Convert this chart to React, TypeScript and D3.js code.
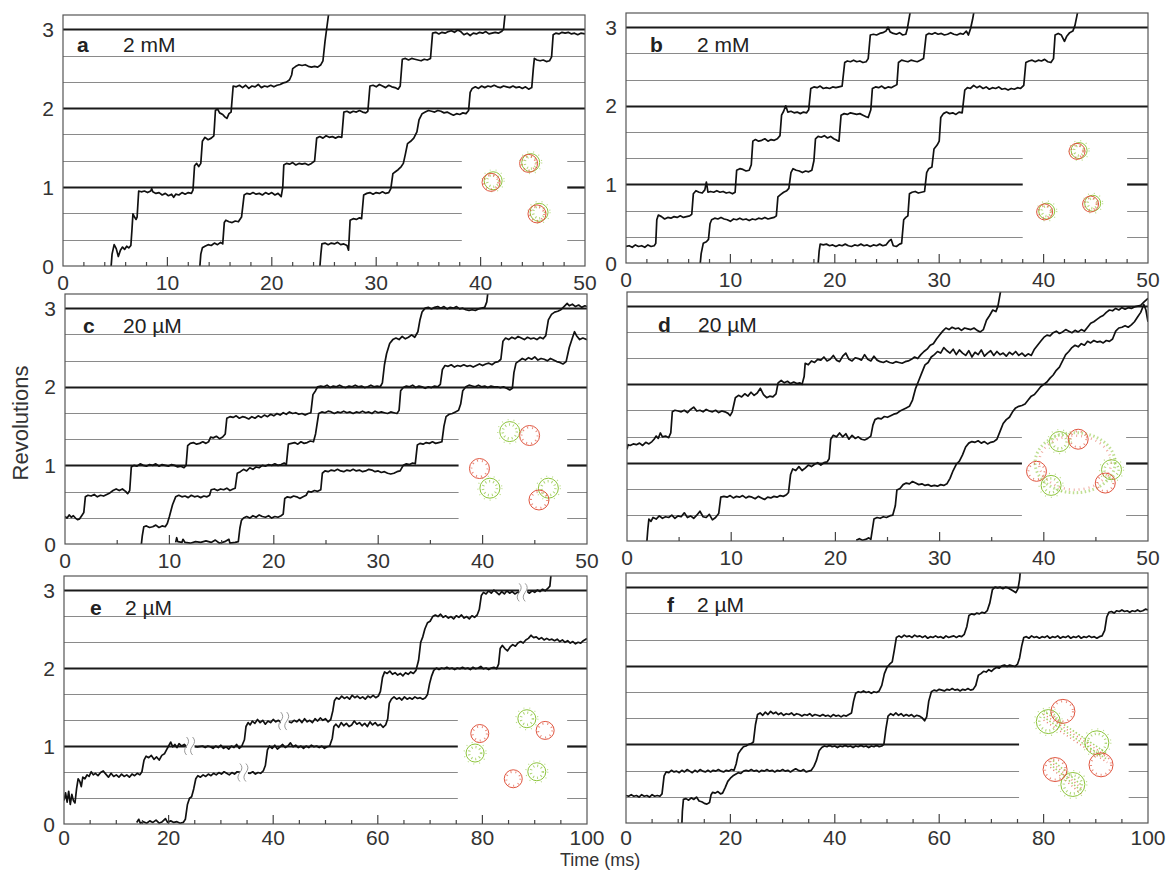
import React from 'react';
import * as d3 from 'd3';

type P = [number, number];

// ---------- trace data (time ms, revolutions) ----------
const A1: P[] = [[4.6,-0.02],[4.7,0.15],[4.9,0.27],[5.1,0.22],[5.3,0.12],[5.5,0.2],[5.7,0.24],[5.9,0.21],[6.1,0.25],[6.3,0.23],[6.5,0.26],[6.6,0.45],[6.7,0.66],[6.85,0.62],[7.0,0.59],[7.1,0.62],[7.25,0.95],[7.5,0.94],[7.8,0.95],[8.1,0.93],[8.4,0.95],[8.5,0.98],[8.6,0.94],[8.9,0.92],[9.2,0.93],[9.5,0.9],[9.8,0.92],[10.1,0.89],[10.4,0.91],[10.6,0.87],[10.8,0.91],[11.1,0.9],[11.4,0.93],[11.7,0.91],[12.0,0.93],[12.3,0.92],[12.45,0.96],[12.6,1.27],[12.8,1.3],[13.0,1.26],[13.2,1.3],[13.35,1.58],[13.6,1.63],[13.9,1.6],[14.2,1.62],[14.45,1.65],[14.6,1.97],[14.8,1.99],[15.0,1.94],[15.3,1.92],[15.5,1.89],[15.7,1.87],[15.9,1.93],[16.1,1.95],[16.3,2.28],[16.6,2.27],[16.9,2.29],[17.2,2.26],[17.5,2.29],[17.8,2.25],[18.1,2.28],[18.4,2.27],[18.7,2.3],[19.0,2.26],[19.3,2.28],[19.6,2.27],[19.9,2.29],[20.2,2.27],[20.5,2.29],[20.8,2.3],[21.1,2.32],[21.4,2.33],[21.7,2.36],[21.9,2.42],[22.0,2.5],[22.3,2.53],[22.6,2.55],[22.9,2.54],[23.2,2.55],[23.5,2.53],[23.8,2.52],[24.1,2.53],[24.4,2.52],[24.7,2.55],[24.9,2.6],[25.1,2.85],[25.3,3.05],[25.5,3.25]];
const A2: P[] = [[13.1,-0.02],[13.2,0.15],[13.35,0.23],[13.6,0.25],[13.9,0.27],[14.2,0.26],[14.5,0.29],[14.8,0.27],[15.1,0.3],[15.3,0.28],[15.45,0.55],[15.6,0.58],[15.9,0.56],[16.2,0.55],[16.5,0.57],[16.8,0.56],[17.1,0.62],[17.35,0.9],[17.6,0.92],[17.9,0.91],[18.2,0.93],[18.5,0.91],[18.8,0.92],[19.1,0.9],[19.4,0.93],[19.7,0.91],[20.0,0.93],[20.3,0.9],[20.6,0.92],[20.9,0.88],[21.05,1.0],[21.15,1.28],[21.4,1.3],[21.7,1.29],[22.0,1.31],[22.3,1.28],[22.6,1.3],[22.9,1.29],[23.2,1.3],[23.5,1.28],[23.8,1.3],[24.1,1.33],[24.3,1.62],[24.6,1.64],[24.9,1.62],[25.2,1.65],[25.5,1.63],[25.8,1.64],[26.1,1.62],[26.4,1.64],[26.7,1.63],[26.9,1.95],[27.2,1.96],[27.5,1.94],[27.8,1.96],[28.1,1.95],[28.4,1.97],[28.7,1.95],[29.0,1.94],[29.2,1.96],[29.4,2.28],[29.7,2.29],[30.0,2.27],[30.3,2.3],[30.6,2.28],[30.9,2.26],[31.2,2.29],[31.5,2.27],[31.8,2.26],[32.1,2.24],[32.3,2.28],[32.5,2.62],[32.8,2.63],[33.1,2.61],[33.4,2.63],[33.7,2.62],[34.0,2.61],[34.3,2.6],[34.6,2.62],[34.9,2.61],[35.2,2.63],[35.4,2.95],[35.7,2.96],[36.0,2.94],[36.3,2.96],[36.6,2.95],[36.9,2.97],[37.2,2.98],[37.5,2.96],[37.8,2.99],[38.1,2.97],[38.4,2.93],[38.7,2.95],[39.0,2.92],[39.3,2.95],[39.6,2.94],[39.9,2.96],[40.2,2.95],[40.5,2.97],[40.8,2.94],[41.1,2.95],[41.4,2.96],[41.7,2.95],[42.0,2.97],[42.2,3.0],[42.35,3.2],[42.45,3.25]];
const A3: P[] = [[24.6,-0.02],[24.7,0.15],[24.8,0.28],[25.1,0.29],[25.4,0.27],[25.7,0.29],[26.0,0.28],[26.3,0.3],[26.6,0.27],[26.9,0.28],[27.2,0.26],[27.35,0.2],[27.5,0.58],[27.8,0.6],[28.1,0.59],[28.4,0.61],[28.6,0.6],[28.8,0.9],[29.1,0.92],[29.4,0.93],[29.7,0.91],[30.0,0.93],[30.3,0.92],[30.6,0.94],[30.9,0.92],[31.2,0.93],[31.4,0.98],[31.6,1.17],[31.9,1.2],[32.1,1.22],[32.4,1.26],[32.6,1.3],[32.8,1.42],[33.0,1.55],[33.3,1.58],[33.6,1.62],[33.9,1.7],[34.1,1.85],[34.4,1.93],[34.7,1.95],[35.0,1.97],[35.3,1.96],[35.6,1.95],[35.9,1.97],[36.2,1.96],[36.5,1.94],[36.8,1.95],[37.1,1.93],[37.4,1.91],[37.7,1.93],[38.0,1.92],[38.3,1.94],[38.6,1.93],[38.85,1.97],[39.0,2.2],[39.2,2.25],[39.5,2.27],[39.8,2.25],[40.1,2.28],[40.4,2.26],[40.7,2.28],[41.0,2.27],[41.3,2.29],[41.6,2.27],[41.9,2.26],[42.2,2.28],[42.5,2.27],[42.8,2.26],[43.1,2.28],[43.4,2.26],[43.7,2.27],[44.0,2.25],[44.3,2.27],[44.6,2.24],[44.9,2.26],[45.05,2.5],[45.15,2.63],[45.4,2.61],[45.7,2.6],[46.0,2.61],[46.3,2.59],[46.6,2.6],[46.8,2.65],[46.95,2.93],[47.2,2.95],[47.5,2.94],[47.8,2.96],[48.1,2.95],[48.4,2.96],[48.7,2.94],[49.0,2.95],[49.3,2.93],[49.6,2.95],[50.0,2.94]];

const B1: P[] = [[0,0.21],[0.3,0.22],[0.6,0.2],[0.9,0.23],[1.2,0.21],[1.5,0.22],[1.8,0.2],[2.1,0.23],[2.4,0.21],[2.7,0.22],[2.85,0.25],[2.95,0.55],[3.1,0.61],[3.4,0.59],[3.7,0.56],[4.0,0.58],[4.3,0.57],[4.6,0.59],[4.9,0.58],[5.2,0.6],[5.5,0.58],[5.8,0.59],[6.1,0.6],[6.3,0.62],[6.45,0.88],[6.7,0.92],[7.0,0.9],[7.3,0.89],[7.55,0.93],[7.7,1.03],[7.85,0.9],[8.1,0.91],[8.4,0.9],[8.7,0.92],[9.0,0.9],[9.3,0.91],[9.6,0.89],[9.9,0.9],[10.2,0.88],[10.45,0.9],[10.6,1.18],[10.9,1.2],[11.2,1.19],[11.5,1.17],[11.8,1.18],[12.0,1.25],[12.15,1.55],[12.4,1.57],[12.7,1.55],[13.0,1.56],[13.3,1.58],[13.6,1.55],[13.9,1.57],[14.2,1.56],[14.5,1.58],[14.75,1.62],[14.9,1.88],[15.1,1.93],[15.3,2.0],[15.5,1.92],[15.8,1.93],[16.1,1.91],[16.4,1.92],[16.7,1.9],[17.0,1.92],[17.3,1.91],[17.5,1.95],[17.7,2.22],[18.0,2.24],[18.3,2.23],[18.6,2.25],[18.9,2.22],[19.2,2.23],[19.5,2.22],[19.8,2.24],[20.1,2.23],[20.4,2.24],[20.7,2.25],[20.95,2.55],[21.2,2.57],[21.5,2.56],[21.8,2.58],[22.1,2.56],[22.4,2.57],[22.7,2.55],[23.0,2.56],[23.2,2.6],[23.4,2.9],[23.7,2.91],[24.0,2.9],[24.3,2.92],[24.6,2.93],[24.9,2.95],[25.1,3.0],[25.3,2.94],[25.6,2.92],[25.9,2.91],[26.2,2.93],[26.5,2.9],[26.8,2.91],[26.95,2.98],[27.1,3.1],[27.3,3.25]];
const B2: P[] = [[7.1,-0.02],[7.2,0.12],[7.4,0.25],[7.7,0.27],[7.9,0.3],[8.05,0.5],[8.2,0.55],[8.5,0.57],[8.8,0.56],[9.1,0.58],[9.4,0.56],[9.7,0.55],[10.0,0.53],[10.3,0.56],[10.6,0.55],[10.9,0.57],[11.2,0.55],[11.5,0.56],[11.8,0.54],[12.1,0.56],[12.4,0.55],[12.7,0.57],[13.0,0.56],[13.3,0.58],[13.6,0.56],[13.9,0.57],[14.2,0.58],[14.4,0.6],[14.55,0.84],[14.8,0.87],[15.1,0.9],[15.4,0.92],[15.6,0.95],[15.8,1.15],[16.0,1.2],[16.3,1.18],[16.6,1.17],[16.9,1.15],[17.2,1.17],[17.5,1.16],[17.8,1.18],[18.0,1.3],[18.15,1.58],[18.4,1.61],[18.7,1.6],[19.0,1.62],[19.3,1.59],[19.6,1.61],[19.9,1.58],[20.2,1.56],[20.4,1.55],[20.6,1.88],[20.9,1.9],[21.2,1.89],[21.5,1.91],[21.8,1.9],[22.1,1.89],[22.4,1.9],[22.7,1.88],[23.0,1.86],[23.2,1.85],[23.45,1.95],[23.6,2.22],[23.9,2.24],[24.2,2.23],[24.5,2.25],[24.8,2.22],[25.1,2.24],[25.4,2.23],[25.7,2.25],[25.95,2.27],[26.1,2.55],[26.4,2.58],[26.7,2.57],[27.0,2.56],[27.3,2.58],[27.6,2.57],[27.9,2.56],[28.2,2.58],[28.5,2.6],[28.75,2.9],[29.0,2.92],[29.3,2.91],[29.6,2.93],[29.9,2.91],[30.2,2.92],[30.5,2.9],[30.8,2.91],[31.1,2.93],[31.4,2.91],[31.7,2.9],[32.0,2.92],[32.3,2.91],[32.6,2.95],[32.8,2.9],[33.0,2.98],[33.2,3.1],[33.4,3.25]];
const B3: P[] = [[18.4,-0.02],[18.5,0.15],[18.6,0.24],[18.9,0.23],[19.2,0.24],[19.5,0.22],[19.8,0.23],[20.1,0.21],[20.4,0.23],[20.7,0.22],[21.0,0.24],[21.3,0.22],[21.6,0.21],[21.9,0.23],[22.2,0.22],[22.5,0.24],[22.8,0.22],[23.1,0.23],[23.4,0.21],[23.7,0.23],[24.0,0.22],[24.3,0.24],[24.6,0.22],[24.9,0.23],[25.2,0.28],[25.4,0.3],[25.6,0.22],[25.9,0.21],[26.2,0.24],[26.4,0.25],[26.6,0.55],[26.8,0.58],[27.0,0.6],[27.15,0.88],[27.4,0.9],[27.7,0.91],[28.0,0.89],[28.3,0.9],[28.6,0.91],[28.8,1.15],[29.0,1.2],[29.3,1.22],[29.5,1.45],[29.8,1.5],[30.0,1.55],[30.15,1.85],[30.4,1.9],[30.7,1.92],[31.0,1.9],[31.3,1.91],[31.6,1.89],[31.9,1.92],[32.2,1.91],[32.45,2.2],[32.7,2.23],[33.0,2.22],[33.3,2.26],[33.6,2.23],[33.9,2.25],[34.2,2.22],[34.5,2.24],[34.8,2.21],[35.1,2.23],[35.4,2.22],[35.7,2.24],[36.0,2.21],[36.3,2.22],[36.6,2.2],[36.9,2.22],[37.2,2.21],[37.5,2.23],[37.8,2.22],[38.1,2.26],[38.3,2.55],[38.6,2.57],[38.9,2.58],[39.2,2.56],[39.5,2.58],[39.8,2.57],[40.1,2.59],[40.4,2.56],[40.7,2.55],[40.95,2.6],[41.1,2.9],[41.4,2.92],[41.7,2.9],[42.0,2.82],[42.2,2.88],[42.5,2.93],[42.8,2.95],[43.0,3.02],[43.2,3.15],[43.35,3.25]];

const C1: P[] = [[0,0.35],[0.2,0.33],[0.4,0.37],[0.6,0.34],[0.8,0.36],[1.0,0.33],[1.2,0.31],[1.4,0.32],[1.6,0.36],[1.8,0.4],[1.95,0.6],[2.2,0.62],[2.5,0.61],[2.8,0.63],[3.1,0.6],[3.4,0.62],[3.7,0.61],[4.0,0.63],[4.3,0.65],[4.6,0.68],[4.9,0.7],[5.2,0.68],[5.5,0.7],[5.8,0.67],[6.0,0.64],[6.2,0.68],[6.35,0.98],[6.6,1.0],[6.9,0.99],[7.2,1.02],[7.5,1.0],[7.8,0.99],[8.1,1.01],[8.4,1.0],[8.7,1.02],[9.0,0.99],[9.3,1.01],[9.6,1.0],[9.9,0.99],[10.2,1.01],[10.5,1.0],[10.8,0.98],[11.1,0.99],[11.4,0.97],[11.6,1.0],[11.75,1.25],[12.0,1.28],[12.3,1.29],[12.6,1.27],[12.9,1.28],[13.2,1.3],[13.5,1.28],[13.75,1.3],[13.95,1.36],[14.2,1.35],[14.5,1.37],[14.8,1.34],[15.1,1.36],[15.35,1.4],[15.5,1.6],[15.8,1.62],[16.1,1.61],[16.4,1.63],[16.7,1.6],[17.0,1.62],[17.3,1.61],[17.6,1.59],[17.9,1.62],[18.2,1.6],[18.5,1.63],[18.8,1.61],[19.1,1.64],[19.4,1.62],[19.7,1.65],[20.0,1.63],[20.3,1.66],[20.6,1.64],[20.9,1.67],[21.2,1.65],[21.5,1.68],[21.8,1.66],[22.1,1.67],[22.4,1.65],[22.7,1.66],[23.0,1.64],[23.3,1.66],[23.55,1.67],[23.75,1.9],[24.0,1.95],[24.2,2.0],[24.5,2.01],[24.8,2.0],[25.1,2.02],[25.4,1.99],[25.7,2.01],[26.0,2.0],[26.3,2.02],[26.6,2.0],[26.9,1.99],[27.2,2.01],[27.5,2.0],[27.8,2.02],[28.1,2.0],[28.4,2.01],[28.7,1.99],[29.0,2.0],[29.3,2.02],[29.6,2.0],[29.9,2.01],[30.2,2.0],[30.4,2.05],[30.6,2.28],[30.8,2.42],[31.1,2.55],[31.4,2.6],[31.7,2.62],[32.0,2.6],[32.3,2.64],[32.6,2.61],[32.9,2.63],[33.2,2.66],[33.5,2.63],[33.8,2.7],[34.0,2.85],[34.2,2.95],[34.5,3.0],[34.8,3.01],[35.1,2.99],[35.4,3.01],[35.7,3.02],[36.0,3.0],[36.3,3.02],[36.6,2.99],[36.9,3.01],[37.2,3.0],[37.5,3.02],[37.8,2.99],[38.1,3.0],[38.4,2.98],[38.7,2.97],[39.0,2.98],[39.3,2.97],[39.6,2.99],[39.9,3.0],[40.2,3.01],[40.4,3.08],[40.55,3.25]];
const C2: P[] = [[7.3,-0.02],[7.4,0.1],[7.55,0.22],[7.8,0.23],[8.1,0.21],[8.4,0.22],[8.7,0.24],[9.0,0.21],[9.3,0.23],[9.6,0.22],[9.8,0.26],[10.0,0.35],[10.3,0.5],[10.6,0.6],[10.9,0.62],[11.2,0.6],[11.5,0.61],[11.8,0.59],[12.1,0.62],[12.4,0.6],[12.7,0.61],[13.0,0.59],[13.3,0.61],[13.6,0.6],[13.85,0.62],[14.0,0.69],[14.3,0.7],[14.6,0.68],[14.9,0.7],[15.2,0.69],[15.5,0.71],[15.8,0.68],[16.1,0.7],[16.3,0.71],[16.5,0.9],[16.8,0.92],[17.1,0.95],[17.4,0.93],[17.7,0.97],[18.0,0.95],[18.3,0.98],[18.6,0.97],[18.9,1.0],[19.2,0.99],[19.5,1.01],[19.8,1.0],[20.1,1.02],[20.4,1.0],[20.7,1.01],[21.0,1.03],[21.2,1.01],[21.4,1.27],[21.7,1.28],[22.0,1.29],[22.3,1.27],[22.6,1.3],[22.9,1.28],[23.2,1.29],[23.5,1.31],[23.8,1.3],[24.0,1.4],[24.3,1.66],[24.6,1.68],[24.9,1.67],[25.2,1.69],[25.5,1.68],[25.8,1.66],[26.1,1.68],[26.4,1.67],[26.7,1.69],[27.0,1.67],[27.3,1.68],[27.6,1.66],[27.9,1.68],[28.2,1.67],[28.5,1.69],[28.8,1.67],[29.1,1.68],[29.4,1.66],[29.7,1.69],[30.0,1.67],[30.3,1.68],[30.6,1.67],[30.9,1.66],[31.2,1.68],[31.5,1.67],[31.8,1.66],[32.0,1.7],[32.15,1.95],[32.4,1.99],[32.7,2.01],[33.0,2.0],[33.3,2.02],[33.6,1.99],[33.9,2.01],[34.2,2.0],[34.5,1.98],[34.8,2.0],[35.1,1.99],[35.4,2.01],[35.7,2.0],[35.95,2.03],[36.15,2.22],[36.4,2.27],[36.7,2.26],[37.0,2.28],[37.3,2.25],[37.6,2.27],[37.9,2.26],[38.2,2.28],[38.5,2.26],[38.8,2.27],[39.1,2.25],[39.4,2.27],[39.7,2.29],[40.0,2.27],[40.3,2.29],[40.6,2.3],[40.9,2.28],[41.2,2.31],[41.5,2.32],[41.75,2.35],[41.95,2.58],[42.2,2.62],[42.5,2.6],[42.8,2.63],[43.1,2.61],[43.4,2.64],[43.7,2.62],[44.0,2.6],[44.3,2.63],[44.6,2.61],[44.9,2.62],[45.2,2.6],[45.5,2.63],[45.8,2.61],[46.05,2.65],[46.3,2.85],[46.6,2.92],[46.9,2.95],[47.2,2.96],[47.5,2.98],[47.8,3.02],[48.1,3.06],[48.3,3.03],[48.6,3.05],[48.9,3.02],[49.2,3.04],[49.5,3.01],[49.8,3.03],[50.0,3.02]];
const C3: P[] = [[10.6,0.02],[10.7,0.08],[10.8,0.03],[11.2,0.02],[11.3,0.06],[11.5,0.02],[12.0,0.01],[12.5,0.03],[13.0,0.02],[13.5,0.04],[14.0,0.02],[14.4,0.05],[14.8,0.01],[15.3,0.03],[15.7,0.06],[15.8,0.01],[16.3,0.02],[16.6,0.03],[16.75,0.2],[16.9,0.3],[17.1,0.33],[17.4,0.35],[17.7,0.33],[18.0,0.36],[18.3,0.34],[18.6,0.37],[18.9,0.35],[19.2,0.34],[19.5,0.36],[19.8,0.33],[20.1,0.35],[20.4,0.34],[20.7,0.36],[20.9,0.38],[21.05,0.58],[21.3,0.6],[21.6,0.59],[21.9,0.61],[22.2,0.6],[22.5,0.58],[22.8,0.6],[23.1,0.62],[23.3,0.67],[23.6,0.66],[23.9,0.68],[24.2,0.67],[24.5,0.69],[24.65,0.9],[24.9,0.93],[25.2,0.92],[25.5,0.94],[25.8,0.93],[26.1,0.95],[26.4,0.93],[26.7,0.92],[27.0,0.94],[27.3,0.93],[27.6,0.95],[27.9,0.93],[28.2,0.94],[28.5,0.92],[28.8,0.93],[29.1,0.95],[29.4,0.94],[29.7,0.92],[30.0,0.93],[30.3,0.91],[30.6,0.92],[30.9,0.9],[31.2,0.89],[31.5,0.9],[31.8,0.92],[32.1,0.93],[32.4,1.0],[32.7,1.02],[33.0,1.01],[33.3,1.03],[33.55,1.02],[33.75,1.26],[34.0,1.28],[34.3,1.27],[34.6,1.29],[34.9,1.28],[35.2,1.3],[35.5,1.28],[35.8,1.29],[36.1,1.3],[36.3,1.5],[36.5,1.62],[36.8,1.65],[37.1,1.66],[37.4,1.68],[37.7,1.7],[37.9,1.78],[38.1,1.95],[38.4,2.0],[38.7,2.02],[39.0,2.01],[39.3,2.0],[39.6,2.02],[39.9,2.0],[40.2,2.01],[40.5,1.99],[40.8,2.01],[41.1,2.0],[41.4,2.0],[41.7,1.99],[42.0,2.0],[42.3,1.98],[42.6,1.96],[42.85,1.98],[43.0,2.18],[43.2,2.3],[43.5,2.33],[43.8,2.36],[44.1,2.34],[44.4,2.37],[44.7,2.35],[45.0,2.38],[45.3,2.34],[45.6,2.36],[45.9,2.35],[46.2,2.33],[46.5,2.36],[46.8,2.34],[47.1,2.32],[47.4,2.31],[47.7,2.29],[48.0,2.32],[48.3,2.5],[48.6,2.62],[48.8,2.7],[49.0,2.65],[49.3,2.6],[49.6,2.62],[50.0,2.6]];

const D1: P[] = [[0,1.17],[0.1,1.23],[0.3,1.22],[0.6,1.24],[0.9,1.23],[1.2,1.25],[1.5,1.22],[1.8,1.26],[2.1,1.24],[2.4,1.27],[2.6,1.3],[2.8,1.34],[3.0,1.31],[3.2,1.38],[3.4,1.33],[3.7,1.34],[4.0,1.32],[4.2,1.38],[4.35,1.65],[4.6,1.67],[4.9,1.66],[5.2,1.65],[5.5,1.67],[5.8,1.64],[6.1,1.68],[6.4,1.71],[6.7,1.66],[7.0,1.67],[7.3,1.65],[7.6,1.68],[7.9,1.66],[8.2,1.65],[8.5,1.67],[8.8,1.64],[9.1,1.66],[9.4,1.65],[9.7,1.63],[9.9,1.6],[10.1,1.65],[10.4,1.83],[10.7,1.86],[11.0,1.84],[11.3,1.88],[11.6,1.85],[11.9,1.9],[12.2,1.86],[12.5,1.89],[12.8,1.95],[13.1,1.87],[13.4,1.83],[13.7,1.85],[14.0,1.84],[14.3,1.88],[14.5,2.02],[14.8,2.05],[15.1,2.02],[15.4,2.04],[15.7,2.01],[16.0,2.03],[16.3,2.01],[16.6,2.02],[16.8,2.0],[17.0,2.1],[17.1,2.27],[17.4,2.25],[17.7,2.3],[18.0,2.28],[18.3,2.32],[18.6,2.31],[18.9,2.35],[19.2,2.3],[19.5,2.32],[19.8,2.37],[20.1,2.31],[20.4,2.29],[20.7,2.36],[21.0,2.4],[21.3,2.32],[21.6,2.3],[21.9,2.34],[22.2,2.33],[22.5,2.31],[22.8,2.38],[23.1,2.32],[23.4,2.3],[23.7,2.36],[24.0,2.31],[24.3,2.29],[24.6,2.28],[24.9,2.3],[25.2,2.28],[25.5,2.27],[25.8,2.29],[26.1,2.28],[26.4,2.27],[26.7,2.29],[27.0,2.3],[27.3,2.32],[27.6,2.35],[27.9,2.33],[28.2,2.38],[28.5,2.42],[28.8,2.45],[29.1,2.5],[29.4,2.52],[29.7,2.58],[30.0,2.63],[30.3,2.68],[30.6,2.72],[30.9,2.7],[31.2,2.73],[31.5,2.71],[31.8,2.72],[32.1,2.69],[32.4,2.72],[32.7,2.71],[33.0,2.7],[33.3,2.72],[33.6,2.69],[33.9,2.67],[34.2,2.7],[34.5,2.82],[34.8,2.88],[35.1,2.95],[35.4,2.93],[35.6,3.0],[35.8,3.15],[35.95,3.25]];
const D2: P[] = [[1.9,-0.02],[2.0,0.15],[2.1,0.28],[2.3,0.25],[2.5,0.3],[2.8,0.28],[3.1,0.32],[3.4,0.29],[3.7,0.31],[4.0,0.3],[4.3,0.33],[4.6,0.29],[4.9,0.32],[5.2,0.31],[5.5,0.36],[5.8,0.3],[6.1,0.32],[6.4,0.29],[6.7,0.33],[7.0,0.38],[7.3,0.31],[7.6,0.3],[7.9,0.34],[8.2,0.27],[8.5,0.3],[8.8,0.35],[9.0,0.56],[9.3,0.57],[9.6,0.56],[9.9,0.58],[10.2,0.55],[10.5,0.57],[10.8,0.56],[11.1,0.58],[11.4,0.55],[11.7,0.57],[12.0,0.56],[12.3,0.54],[12.6,0.57],[12.9,0.55],[13.2,0.53],[13.5,0.56],[13.8,0.55],[14.1,0.57],[14.4,0.56],[14.7,0.58],[15.0,0.57],[15.3,0.59],[15.5,0.62],[15.7,0.85],[15.9,0.92],[16.2,0.9],[16.5,0.95],[16.8,0.9],[17.1,0.93],[17.4,0.97],[17.7,0.95],[18.0,0.98],[18.3,1.0],[18.6,0.97],[18.9,1.0],[19.2,1.01],[19.4,1.05],[19.55,1.3],[19.8,1.35],[20.1,1.33],[20.4,1.38],[20.7,1.33],[21.0,1.37],[21.3,1.3],[21.6,1.35],[21.9,1.31],[22.2,1.33],[22.5,1.3],[22.8,1.29],[23.1,1.31],[23.4,1.34],[23.6,1.48],[23.8,1.55],[24.1,1.57],[24.4,1.56],[24.7,1.59],[25.0,1.58],[25.3,1.6],[25.6,1.62],[25.9,1.63],[26.2,1.66],[26.5,1.68],[26.8,1.7],[27.1,1.72],[27.4,1.8],[27.7,1.95],[28.0,2.05],[28.3,2.15],[28.6,2.25],[28.9,2.28],[29.2,2.35],[29.5,2.38],[29.8,2.42],[30.1,2.4],[30.4,2.47],[30.7,2.43],[31.0,2.4],[31.3,2.45],[31.6,2.38],[31.9,2.44],[32.2,2.4],[32.5,2.37],[32.8,2.43],[33.1,2.35],[33.4,2.41],[33.7,2.38],[34.0,2.44],[34.3,2.36],[34.6,2.4],[34.9,2.43],[35.2,2.37],[35.5,2.42],[35.8,2.38],[36.1,2.4],[36.4,2.36],[36.7,2.41],[37.0,2.38],[37.3,2.42],[37.6,2.37],[37.9,2.4],[38.2,2.36],[38.5,2.39],[38.8,2.37],[39.1,2.45],[39.4,2.5],[39.7,2.55],[40.0,2.6],[40.3,2.63],[40.6,2.62],[40.9,2.66],[41.2,2.68],[41.5,2.65],[41.8,2.67],[42.1,2.7],[42.4,2.68],[42.7,2.66],[43.0,2.69],[43.3,2.67],[43.6,2.7],[43.9,2.68],[44.2,2.73],[44.5,2.78],[44.8,2.8],[45.1,2.83],[45.4,2.86],[45.7,2.88],[46.0,2.92],[46.3,2.95],[46.6,2.94],[46.9,2.97],[47.2,2.95],[47.5,2.98],[47.8,2.96],[48.1,2.98],[48.4,2.97],[48.7,2.99],[49.0,3.0],[49.3,3.01],[49.6,3.05],[50.0,3.1]];
const D3: P[] = [[22.0,0.01],[22.3,0.03],[22.6,0.01],[22.9,0.02],[23.2,0.04],[23.4,0.02],[23.55,0.15],[23.7,0.28],[24.0,0.3],[24.3,0.29],[24.6,0.31],[24.9,0.3],[25.2,0.32],[25.5,0.33],[25.75,0.45],[25.9,0.65],[26.2,0.67],[26.5,0.72],[26.8,0.74],[27.1,0.73],[27.4,0.76],[27.7,0.74],[28.0,0.72],[28.3,0.73],[28.6,0.71],[28.9,0.72],[29.2,0.7],[29.5,0.71],[29.8,0.7],[30.1,0.72],[30.4,0.71],[30.7,0.73],[31.0,0.8],[31.3,0.9],[31.6,0.98],[31.9,1.02],[32.2,1.1],[32.5,1.2],[32.8,1.25],[33.1,1.27],[33.4,1.26],[33.7,1.28],[34.0,1.25],[34.3,1.27],[34.6,1.24],[34.9,1.26],[35.2,1.27],[35.5,1.3],[35.8,1.4],[36.1,1.5],[36.4,1.55],[36.7,1.58],[37.0,1.65],[37.3,1.7],[37.6,1.72],[37.9,1.73],[38.2,1.75],[38.5,1.8],[38.8,1.85],[39.1,1.87],[39.4,1.92],[39.7,1.97],[40.0,2.0],[40.3,2.03],[40.6,2.08],[40.9,2.12],[41.2,2.18],[41.5,2.22],[41.8,2.3],[42.1,2.38],[42.4,2.42],[42.7,2.47],[43.0,2.5],[43.3,2.48],[43.6,2.52],[43.9,2.5],[44.2,2.55],[44.5,2.53],[44.8,2.56],[45.1,2.54],[45.4,2.55],[45.7,2.53],[46.0,2.56],[46.3,2.55],[46.6,2.58],[46.9,2.68],[47.2,2.72],[47.5,2.73],[47.8,2.75],[48.1,2.73],[48.4,2.76],[48.7,2.8],[49.0,2.86],[49.3,2.92],[49.6,3.02],[49.8,2.95],[50.0,2.8]];

const E1: P[] = [[0,0.3],[0.3,0.4],[0.6,0.28],[0.9,0.42],[1.2,0.25],[1.5,0.38],[1.8,0.3],[2.1,0.27],[2.4,0.45],[2.7,0.58],[3.0,0.55],[3.3,0.48],[3.6,0.6],[4.0,0.58],[4.4,0.63],[4.8,0.61],[5.2,0.67],[5.6,0.63],[6.0,0.65],[6.5,0.62],[7.0,0.66],[7.5,0.68],[8.0,0.64],[8.5,0.6],[9.0,0.65],[9.5,0.61],[10.0,0.63],[10.5,0.6],[11.0,0.64],[11.5,0.61],[12.0,0.63],[12.5,0.6],[13.0,0.64],[13.5,0.62],[14.0,0.65],[14.5,0.63],[14.9,0.67],[15.3,0.82],[15.7,0.87],[16.2,0.85],[16.7,0.88],[17.2,0.83],[17.7,0.86],[18.2,0.82],[18.7,0.88],[19.2,0.9],[19.6,0.95],[20.0,1.0],[20.4,1.05],[20.8,0.99],[21.2,1.02],[21.6,0.98],[22.0,1.03],[22.5,1.0],[23.0,1.02],[23.5,0.99],[24.5,1.0],[25.5,0.99],[26.5,1.0],[27.0,0.98],[27.5,1.0],[28.0,0.99],[28.5,0.97],[29.0,1.0],[29.5,0.98],[30.0,1.01],[30.5,0.97],[31.0,0.99],[31.5,0.96],[32.0,1.0],[32.5,0.98],[33.0,1.02],[33.5,0.97],[34.0,1.0],[34.5,1.08],[34.8,1.25],[35.2,1.3],[35.6,1.27],[36.0,1.32],[36.5,1.29],[37.0,1.34],[37.5,1.3],[38.0,1.33],[38.5,1.28],[39.0,1.32],[39.5,1.3],[40.0,1.34],[40.5,1.31],[41.0,1.33],[41.5,1.3],[42.5,1.32],[43.5,1.3],[44.0,1.33],[44.5,1.31],[45.0,1.34],[45.5,1.3],[46.0,1.35],[46.5,1.31],[47.0,1.33],[47.5,1.3],[48.0,1.35],[48.5,1.32],[49.0,1.36],[49.5,1.33],[50.0,1.35],[50.5,1.31],[51.0,1.34],[51.4,1.45],[51.7,1.58],[52.1,1.62],[52.6,1.6],[53.1,1.64],[53.6,1.61],[54.1,1.63],[54.6,1.6],[55.1,1.65],[55.6,1.62],[56.1,1.64],[56.6,1.61],[57.1,1.63],[57.6,1.6],[58.1,1.64],[58.6,1.62],[59.1,1.65],[59.6,1.62],[60.1,1.64],[60.5,1.7],[60.9,1.88],[61.3,1.95],[61.8,1.93],[62.3,1.96],[62.8,1.92],[63.3,1.94],[63.8,1.91],[64.3,1.93],[64.8,1.9],[65.3,1.94],[65.8,1.92],[66.3,1.95],[66.8,1.93],[67.3,1.97],[67.8,2.1],[68.2,2.33],[68.6,2.4],[69.0,2.5],[69.5,2.58],[70.0,2.6],[70.5,2.66],[71.0,2.68],[71.5,2.66],[72.0,2.69],[72.5,2.65],[73.0,2.67],[73.5,2.64],[74.0,2.66],[74.5,2.63],[75.0,2.67],[75.5,2.65],[76.0,2.68],[76.5,2.64],[77.0,2.66],[77.5,2.63],[78.0,2.67],[78.5,2.65],[79.0,2.68],[79.4,2.75],[79.8,2.93],[80.2,2.97],[80.7,2.95],[81.2,2.99],[81.7,2.96],[82.2,3.0],[82.7,2.97],[83.2,2.94],[83.7,2.98],[84.2,2.95],[84.7,2.99],[85.2,2.96],[85.7,2.98],[86.2,2.95],[86.7,2.97],[88.5,2.98],[89.0,2.96],[89.5,2.99],[90.0,2.97],[90.5,3.0],[91.0,2.98],[91.5,3.01],[92.0,2.99],[92.5,3.02],[92.9,3.05],[93.2,3.25]];
const E2: P[] = [[13.9,0.02],[14.3,0.06],[14.6,0.01],[15.2,0.03],[15.8,0.01],[16.4,0.04],[17.0,0.02],[17.6,0.05],[18.2,0.01],[18.8,0.03],[19.4,0.07],[19.8,0.02],[20.4,0.04],[21.0,0.02],[21.6,0.03],[22.2,0.01],[22.8,0.02],[23.2,0.06],[23.6,0.25],[24.0,0.33],[24.4,0.35],[24.8,0.45],[25.2,0.58],[25.6,0.62],[26.1,0.6],[26.6,0.63],[27.1,0.61],[27.6,0.64],[28.1,0.62],[28.6,0.65],[29.1,0.63],[29.6,0.66],[30.1,0.64],[30.6,0.67],[31.1,0.65],[31.6,0.63],[32.1,0.66],[32.6,0.64],[33.1,0.67],[35.6,0.65],[36.1,0.67],[36.6,0.64],[37.1,0.66],[37.6,0.65],[38.1,0.68],[38.5,0.75],[38.9,0.95],[39.3,1.0],[39.8,0.97],[40.3,1.01],[40.8,0.96],[41.3,0.99],[41.8,1.02],[42.3,0.98],[42.8,1.0],[43.3,1.04],[43.8,0.99],[44.3,1.01],[44.8,0.98],[45.3,1.0],[45.8,0.97],[46.3,1.0],[46.8,0.98],[47.3,1.01],[47.8,0.99],[48.3,1.0],[48.8,0.98],[49.3,1.0],[49.8,0.97],[50.3,0.99],[50.8,1.0],[51.3,1.1],[51.6,1.25],[52.0,1.28],[52.5,1.24],[53.0,1.3],[53.5,1.26],[54.0,1.29],[54.5,1.25],[55.0,1.27],[55.5,1.32],[56.0,1.28],[56.5,1.3],[57.0,1.26],[57.5,1.29],[58.0,1.25],[58.5,1.31],[59.0,1.27],[59.5,1.3],[60.0,1.26],[60.5,1.28],[61.0,1.24],[61.5,1.27],[61.9,1.35],[62.2,1.55],[62.6,1.6],[63.1,1.63],[63.6,1.6],[64.1,1.62],[64.6,1.59],[65.1,1.63],[65.6,1.6],[66.1,1.62],[66.6,1.6],[67.1,1.63],[67.6,1.61],[68.1,1.62],[68.6,1.6],[69.1,1.62],[69.5,1.66],[69.9,1.8],[70.3,1.9],[70.7,1.97],[71.2,2.0],[71.7,1.98],[72.2,2.0],[72.7,1.99],[73.2,2.01],[73.7,1.99],[74.2,2.0],[74.7,1.98],[75.2,2.0],[75.7,1.99],[76.2,2.01],[76.7,1.99],[77.2,2.0],[77.7,1.98],[78.2,2.01],[78.7,1.99],[79.2,2.0],[79.7,2.02],[80.2,1.99],[80.7,2.0],[81.2,1.98],[81.7,2.0],[82.2,2.01],[82.7,1.99],[83.1,2.05],[83.4,2.25],[83.8,2.29],[84.3,2.25],[84.8,2.22],[85.3,2.27],[85.8,2.3],[86.3,2.28],[86.8,2.32],[87.3,2.34],[87.8,2.32],[88.3,2.36],[88.8,2.38],[89.3,2.42],[89.8,2.39],[90.3,2.4],[90.8,2.37],[91.3,2.39],[91.8,2.36],[92.3,2.38],[92.8,2.36],[93.3,2.37],[93.8,2.35],[94.3,2.37],[94.8,2.34],[95.3,2.36],[95.8,2.33],[96.3,2.35],[96.8,2.32],[97.3,2.34],[97.8,2.31],[98.3,2.33],[98.8,2.32],[99.3,2.35],[100,2.38]];

const F1: P[] = [[0,0.35],[0.5,0.34],[1.0,0.36],[1.5,0.34],[2.0,0.35],[2.5,0.33],[3.0,0.36],[3.5,0.34],[4.0,0.35],[4.5,0.33],[5.0,0.36],[5.5,0.34],[6.0,0.35],[6.5,0.34],[6.9,0.37],[7.3,0.6],[7.7,0.65],[8.2,0.64],[8.7,0.67],[9.2,0.65],[9.7,0.66],[10.2,0.64],[10.7,0.67],[11.2,0.65],[11.7,0.68],[12.2,0.66],[12.7,0.64],[13.2,0.67],[13.7,0.65],[14.2,0.68],[14.7,0.66],[15.2,0.65],[15.7,0.67],[16.2,0.65],[16.7,0.67],[17.2,0.66],[17.7,0.68],[18.2,0.66],[18.7,0.65],[19.2,0.67],[19.7,0.66],[20.2,0.68],[20.7,0.67],[21.1,0.75],[21.5,0.88],[22.0,0.93],[22.5,0.97],[23.0,0.98],[23.5,1.0],[24.0,1.01],[24.4,1.03],[24.8,1.25],[25.2,1.38],[25.7,1.4],[26.2,1.37],[26.7,1.41],[27.2,1.38],[27.7,1.42],[28.2,1.39],[28.7,1.41],[29.2,1.38],[29.7,1.4],[30.2,1.37],[30.7,1.39],[31.2,1.38],[31.7,1.4],[32.2,1.37],[32.7,1.39],[33.2,1.38],[33.7,1.36],[34.2,1.38],[34.7,1.37],[35.2,1.39],[35.7,1.36],[36.2,1.38],[36.7,1.37],[37.2,1.36],[37.7,1.38],[38.2,1.36],[38.7,1.37],[39.2,1.35],[39.7,1.38],[40.2,1.36],[40.7,1.37],[41.2,1.35],[41.7,1.37],[42.2,1.36],[42.7,1.38],[43.2,1.4],[43.6,1.55],[44.0,1.65],[44.5,1.67],[45.0,1.66],[45.5,1.68],[46.0,1.66],[46.5,1.67],[47.0,1.65],[47.5,1.67],[48.0,1.66],[48.5,1.68],[49.0,1.75],[49.5,1.9],[50.0,1.98],[50.5,2.02],[51.0,2.05],[51.4,2.2],[51.8,2.36],[52.3,2.38],[52.8,2.36],[53.3,2.39],[53.8,2.37],[54.3,2.38],[54.8,2.36],[55.3,2.39],[55.8,2.37],[56.3,2.38],[56.8,2.36],[57.3,2.38],[57.8,2.35],[58.3,2.37],[58.8,2.36],[59.3,2.38],[59.8,2.36],[60.3,2.37],[60.8,2.35],[61.3,2.38],[61.8,2.36],[62.3,2.37],[62.8,2.38],[63.3,2.36],[63.8,2.38],[64.3,2.37],[64.8,2.4],[65.3,2.5],[65.7,2.64],[66.2,2.66],[66.7,2.65],[67.2,2.67],[67.7,2.66],[68.2,2.68],[68.7,2.67],[69.2,2.7],[69.7,2.8],[70.2,2.97],[70.7,3.0],[71.2,2.99],[71.7,3.0],[72.2,2.98],[72.7,3.0],[73.2,2.99],[73.7,2.97],[74.2,2.95],[74.7,2.93],[75.1,2.98],[75.4,3.1],[75.6,3.25]];
const F2: P[] = [[10.7,-0.02],[10.8,0.15],[11.0,0.3],[11.5,0.31],[12.0,0.29],[12.5,0.32],[13.0,0.3],[13.5,0.33],[14.0,0.28],[14.5,0.27],[15.0,0.25],[15.5,0.24],[16.0,0.26],[16.3,0.36],[16.6,0.39],[17.1,0.38],[17.6,0.4],[18.1,0.37],[18.5,0.38],[19.0,0.45],[19.5,0.53],[20.0,0.57],[20.5,0.6],[21.0,0.62],[21.5,0.64],[22.0,0.63],[22.5,0.66],[23.0,0.67],[23.5,0.66],[24.0,0.68],[24.5,0.66],[25.0,0.67],[25.5,0.65],[26.0,0.67],[26.5,0.66],[27.0,0.68],[27.5,0.66],[28.0,0.67],[28.5,0.65],[29.0,0.67],[29.5,0.66],[30.0,0.68],[30.5,0.66],[31.0,0.67],[31.5,0.65],[32.0,0.67],[32.5,0.69],[33.0,0.67],[33.5,0.66],[34.0,0.68],[34.5,0.65],[35.0,0.66],[35.5,0.67],[36.0,0.72],[36.5,0.8],[37.0,0.92],[37.5,0.96],[38.0,0.98],[38.5,0.97],[39.0,0.99],[39.5,0.97],[40.0,0.98],[40.5,0.96],[41.0,0.98],[41.5,0.97],[42.0,0.99],[42.5,0.97],[43.0,0.98],[43.5,0.96],[44.0,0.98],[44.5,0.97],[45.0,0.99],[45.5,0.97],[46.0,0.98],[46.5,0.96],[47.0,0.98],[47.5,0.97],[48.0,0.99],[48.5,0.97],[49.0,0.98],[49.4,1.0],[49.8,1.2],[50.2,1.36],[50.7,1.39],[51.2,1.37],[51.7,1.4],[52.2,1.37],[52.7,1.39],[53.2,1.36],[53.7,1.38],[54.2,1.36],[54.7,1.38],[55.2,1.35],[55.7,1.37],[56.2,1.36],[56.7,1.34],[57.2,1.3],[57.6,1.35],[58.0,1.55],[58.5,1.67],[59.0,1.69],[59.5,1.68],[60.0,1.7],[60.5,1.69],[61.0,1.68],[61.5,1.7],[62.0,1.69],[62.5,1.71],[63.0,1.69],[63.5,1.7],[64.0,1.68],[64.5,1.7],[65.0,1.69],[65.5,1.71],[66.0,1.69],[66.5,1.7],[67.0,1.75],[67.5,1.88],[68.0,1.9],[68.5,1.93],[69.0,1.92],[69.5,1.95],[70.0,1.93],[70.5,1.96],[71.0,1.98],[71.5,1.97],[72.0,2.0],[72.5,2.01],[73.0,1.99],[73.5,2.01],[74.0,2.0],[74.5,1.99],[75.0,2.02],[75.4,2.1],[75.8,2.25],[76.2,2.36],[76.7,2.37],[77.2,2.35],[77.7,2.38],[78.2,2.36],[78.7,2.37],[79.2,2.35],[79.7,2.37],[80.2,2.36],[80.7,2.38],[81.2,2.35],[81.7,2.37],[82.2,2.36],[82.7,2.38],[83.2,2.35],[83.7,2.37],[84.2,2.36],[84.7,2.38],[85.2,2.35],[85.7,2.37],[86.2,2.36],[86.7,2.38],[87.2,2.35],[87.7,2.37],[88.2,2.36],[88.7,2.38],[89.2,2.36],[89.7,2.37],[90.2,2.35],[90.7,2.37],[91.2,2.38],[91.7,2.45],[92.1,2.62],[92.5,2.68],[93.0,2.69],[93.5,2.67],[94.0,2.7],[94.5,2.69],[95.0,2.71],[95.5,2.69],[96.0,2.7],[96.5,2.68],[97.0,2.7],[97.5,2.69],[98.0,2.71],[98.5,2.69],[99.0,2.7],[99.5,2.72],[100,2.71]];

// ---------- inset (fluorescence) circle centres, data units ----------
const RED_A: P[] = [[41.0,1.06],[44.6,1.3],[45.4,0.66]];
const GREEN_A: P[] = [[41.2,1.08],[44.8,1.31],[45.6,0.68]];
const RED_B: P[] = [[43.2,1.42],[40.1,0.65],[44.5,0.75]];
const GREEN_B: P[] = [[43.4,1.43],[40.3,0.66],[44.7,0.76]];
const RED_C: P[] = [[44.5,1.38],[39.7,0.96],[45.4,0.56]];
const GREEN_C: P[] = [[42.6,1.43],[40.7,0.71],[46.3,0.71]];
const RED_D: P[] = [[43.3,1.3],[39.3,0.89],[45.9,0.74]];
const GREEN_D: P[] = [[41.5,1.27],[40.7,0.71],[46.5,0.91]];
const RED_E: P[] = [[79.5,1.16],[92.0,1.2],[85.9,0.58]];
const GREEN_E: P[] = [[78.6,0.91],[88.5,1.35],[90.4,0.67]];
const RED_F: P[] = [[83.7,1.42],[91.0,0.74],[82.2,0.68]];
const GREEN_F: P[] = [[80.9,1.29],[90.2,1.02],[85.6,0.49]];
const RING_D: P[] = [[43.0,1.0]];
const STREAK_F: [P, P][] = [[[80.0,1.36],[92.2,0.82]],[[81.3,0.76],[87.2,0.42]]];

// break symbols in panel e
const BREAKS_E: P[] = [[24.2,1.0],[34.4,0.66],[42.2,1.32],[87.8,2.97]];

// ---------- axis labels ----------
const X_LABELS_50 = [0, 10, 20, 30, 40, 50];
const X_LABELS_100 = [0, 20, 40, 60, 80, 100];
const Y_LABELS = [0, 1, 2, 3];
const GRID_LEVELS = [1/3, 2/3, 1, 4/3, 5/3, 2, 7/3, 8/3, 3];
const Y_MAX = 3.18;

type Cfg = {
  id: string; letter: string; conc: string;
  left: number; right: number; bottom: number; top: number;
  xMax: number; xLabels: number[]; tickStep: number; yLabels: boolean; xLabelDy: number;
  traces: P[][]; gap: [number, number];
  red: P[]; green: P[]; r: number;
  letterDx: number; concDx: number; textDy: number;
  breaks?: P[]; ring?: P[]; streaks?: [P, P][];
};

const PANELS: Cfg[] = [
  { id:'a', letter:'a', conc:'2 mM', left:63, right:585, bottom:266, top:15, xMax:50, xLabels:X_LABELS_50, tickStep:2, yLabels:true, xLabelDy:24, traces:[A1,A2,A3], gap:[38.2,48.3], red:RED_A, green:GREEN_A, r:9, letterDx:14, concDx:60, textDy:37 },
  { id:'b', letter:'b', conc:'2 mM', left:626, right:1148, bottom:263, top:13, xMax:50, xLabels:X_LABELS_50, tickStep:2, yLabels:true, xLabelDy:24, traces:[B1,B2,B3], gap:[38.0,48.0], red:RED_B, green:GREEN_B, r:8, letterDx:24, concDx:71, textDy:39 },
  { id:'c', letter:'c', conc:'20 \u00b5M', left:65, right:587, bottom:544, top:294, xMax:50, xLabels:X_LABELS_50, tickStep:5, yLabels:true, xLabelDy:24, traces:[C1,C2,C3], gap:[37.7,48.1], red:RED_C, green:GREEN_C, r:10, letterDx:18, concDx:58, textDy:39 },
  { id:'d', letter:'d', conc:'20 \u00b5M', left:627, right:1148, bottom:541, top:292, xMax:50, xLabels:X_LABELS_50, tickStep:5, yLabels:false, xLabelDy:24, traces:[D1,D2,D3], gap:[37.9,47.9], red:RED_D, green:GREEN_D, r:10, letterDx:31, concDx:71, textDy:40, ring:RING_D },
  { id:'e', letter:'e', conc:'2 \u00b5M', left:64, right:587, bottom:824, top:576, xMax:100, xLabels:X_LABELS_100, tickStep:5, yLabels:true, xLabelDy:21, traces:[E1,E2], gap:[75.3,96.2], red:RED_E, green:GREEN_E, r:9, letterDx:26, concDx:61, textDy:39, breaks:BREAKS_E },
  { id:'f', letter:'f', conc:'2 \u00b5M', left:626, right:1148, bottom:823, top:573, xMax:100, xLabels:X_LABELS_100, tickStep:5, yLabels:false, xLabelDy:22, traces:[F1,F2], gap:[75.3,96.3], red:RED_F, green:GREEN_F, r:12, letterDx:41, concDx:71, textDy:39, streaks:STREAK_F },
];

const FONT = "'Liberation Sans', Arial, Helvetica, sans-serif";
const FS = 21;
const RED = '#e0553f';
const GREEN = '#8cc43a';

function Panel({ cfg }: { cfg: Cfg }) {
  const x = d3.scaleLinear().domain([0, cfg.xMax]).range([cfg.left, cfg.right]);
  const y = d3.scaleLinear().domain([0, Y_MAX]).range([cfg.bottom, cfg.top]);
  const line = d3.line<P>().x(d => x(d[0])).y(d => y(d[1]));
  const ticks = d3.range(0, cfg.xMax + 1e-6, cfg.tickStep);
  const clipId = `clip-${cfg.id}`;

  const gridSegs: { x1: number; x2: number; v: number }[] = [];
  GRID_LEVELS.forEach(v => {
    if (v < 1.5) {
      gridSegs.push({ x1: 0, x2: cfg.gap[0], v });
      gridSegs.push({ x1: cfg.gap[1], x2: cfg.xMax, v });
    } else gridSegs.push({ x1: 0, x2: cfg.xMax, v });
  });

  return (
    <g>
      <defs>
        <clipPath id={clipId}>
          <rect x={cfg.left} y={cfg.top} width={cfg.right - cfg.left} height={cfg.bottom - cfg.top} />
        </clipPath>
      </defs>
      {gridSegs.map((s, i) => {
        const thick = Math.abs(s.v - Math.round(s.v)) < 1e-6;
        return (
          <line key={`g${i}`} x1={x(s.x1)} x2={x(s.x2)} y1={Math.round(y(s.v)) + 0.5} y2={Math.round(y(s.v)) + 0.5}
            stroke={thick ? '#1a1a1a' : '#8a8a8a'} strokeWidth={thick ? 2.2 : 1} />
        );
      })}
      {/* inset fluorescence images */}
      <g clipPath={`url(#${clipId})`}>
        {(cfg.ring || []).map((c, i) => (
          <g key={`ring${i}`}>
            <ellipse cx={x(c[0])} cy={y(c[1])} rx={40} ry={30} fill="none" stroke={GREEN} strokeWidth={3} strokeDasharray="1.5 2.5" opacity={0.55} />
            <ellipse cx={x(c[0])} cy={y(c[1])} rx={36} ry={27} fill="none" stroke={RED} strokeWidth={2.5} strokeDasharray="1 4" opacity={0.5} />
          </g>
        ))}
        {(cfg.streaks || []).map((s, i) => (
          <g key={`st${i}`}>
            {[-5, -2, 1, 4].map((o, k) => (
              <line key={k} x1={x(s[0][0])} y1={y(s[0][1]) + o} x2={x(s[1][0])} y2={y(s[1][1]) + o}
                stroke={k % 2 ? RED : GREEN} strokeWidth={1.6} strokeDasharray={k % 2 ? '1 3' : '1.5 2'} opacity={0.75} />
            ))}
          </g>
        ))}
        {cfg.green.map((c, i) => (
          <g key={`gc${i}`}>
            <circle cx={x(c[0])} cy={y(c[1])} r={cfg.r} fill="none" stroke={GREEN} strokeWidth={1} />
            <circle cx={x(c[0])} cy={y(c[1])} r={cfg.r - 3} fill="none" stroke={GREEN} strokeWidth={2.5} strokeDasharray="1 3" opacity={0.7} />
            <circle cx={x(c[0])} cy={y(c[1])} r={cfg.r + 2} fill="none" stroke={GREEN} strokeWidth={1.2} strokeDasharray="1 5" opacity={0.6} />
          </g>
        ))}
        {cfg.red.map((c, i) => (
          <g key={`rc${i}`}>
            <circle cx={x(c[0])} cy={y(c[1])} r={cfg.r} fill="none" stroke={RED} strokeWidth={1} />
            <circle cx={x(c[0])} cy={y(c[1])} r={cfg.r - 2} fill="none" stroke={RED} strokeWidth={2} strokeDasharray="1 4" opacity={0.7} />
          </g>
        ))}
      </g>
      {/* traces */}
      <g clipPath={`url(#${clipId})`}>
        {cfg.traces.map((t, i) => (
          <path key={`t${i}`} d={line(t) || ''} fill="none" stroke="#111" strokeWidth={1.7} strokeLinejoin="round" />
        ))}
      </g>
      {(cfg.breaks || []).map((b, i) => {
        const bx = x(b[0]), by = y(b[1]);
        return (
          <g key={`br${i}`}>
            <rect x={bx - 4} y={by - 9} width={8} height={18} fill="#fff" />
            {[-3, 3].map((o, k) => (
              <path key={k} d={`M${bx + o - 1},${by - 9} q4,4 0,9 q-4,5 0,9`} fill="none" stroke="#9a9a9a" strokeWidth={1} />
            ))}
          </g>
        );
      })}
      {/* frame */}
      <rect x={cfg.left} y={cfg.top} width={cfg.right - cfg.left} height={cfg.bottom - cfg.top} fill="none" stroke="#555" strokeWidth={1.2} />
      {/* ticks */}
      {ticks.map((t, i) => {
        const major = cfg.xLabels.indexOf(Math.round(t)) >= 0 && Math.abs(t - Math.round(t)) < 1e-6;
        if (t === 0 || t === cfg.xMax) return null;
        return <line key={`tk${i}`} x1={x(t)} x2={x(t)} y1={cfg.bottom} y2={cfg.bottom - (major ? 9 : 4)} stroke="#444" strokeWidth={1.2} />;
      })}
      {cfg.xLabels.map((t, i) => (
        <text key={`xl${i}`} x={x(t)} y={cfg.bottom + cfg.xLabelDy} textAnchor="middle" fontFamily={FONT} fontSize={FS} fill="#333">{t}</text>
      ))}
      {cfg.yLabels && Y_LABELS.map((v, i) => (
        <text key={`yl${i}`} x={cfg.left - 9} y={y(v) + 7.5} textAnchor="end" fontFamily={FONT} fontSize={FS} fill="#333">{v}</text>
      ))}
      <text x={cfg.left + cfg.letterDx} y={cfg.top + cfg.textDy} fontFamily={FONT} fontSize={FS} fontWeight="bold" fill="#222">{cfg.letter}</text>
      <text x={cfg.left + cfg.concDx} y={cfg.top + cfg.textDy} fontFamily={FONT} fontSize={FS} fill="#222">{cfg.conc}</text>
    </g>
  );
}

export default function App() {
  return (
    <svg width={1167} height={870} viewBox="0 0 1167 870" style={{ position: 'absolute', left: 0, top: 0, background: '#fff' }}>
      <rect x={0} y={0} width={1167} height={870} fill="#fff" />
      {PANELS.map(p => <Panel key={p.id} cfg={p} />)}
      <text transform="translate(28,423) rotate(-90)" textAnchor="middle" fontFamily={FONT} fontSize={22} fill="#333">Revolutions</text>
      <text x={560} y={866} fontFamily={FONT} fontSize={18} fill="#333">Time (ms)</text>
    </svg>
  );
}
